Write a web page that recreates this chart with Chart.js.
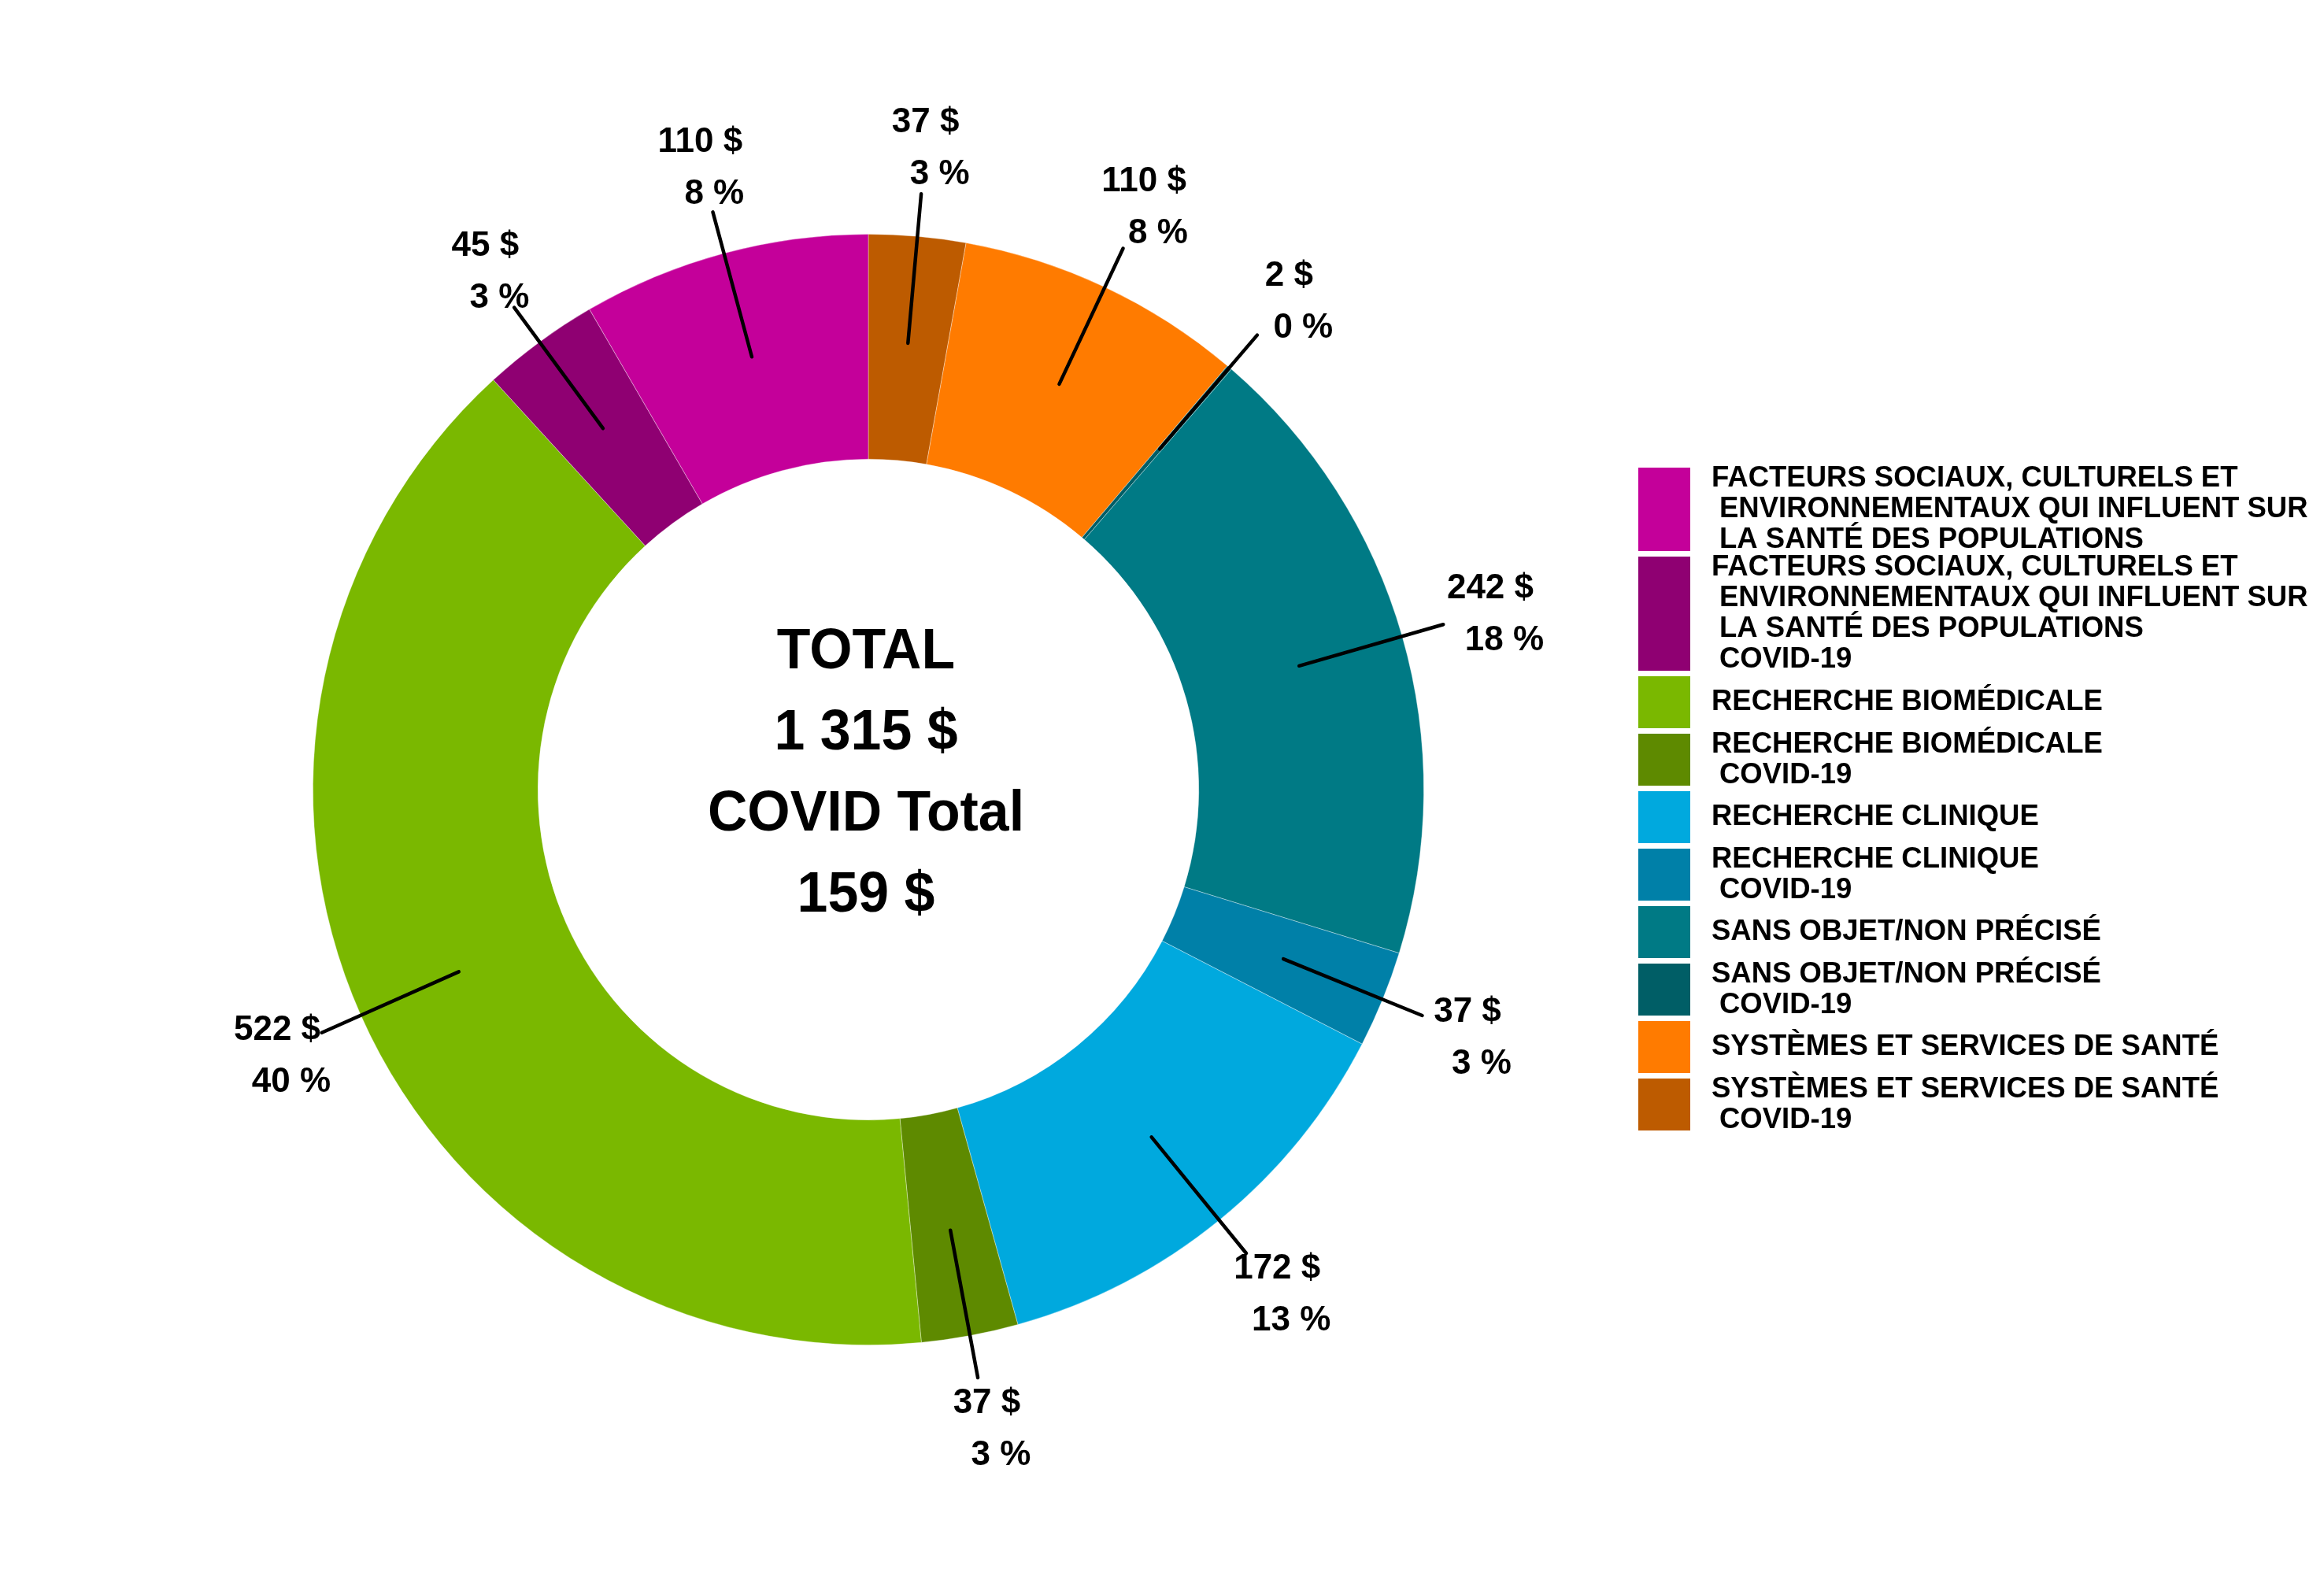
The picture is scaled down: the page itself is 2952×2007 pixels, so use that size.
<!DOCTYPE html>
<html lang="fr">
<head>
<meta charset="utf-8">
<title>Répartition des dépenses</title>
<script src="https://cdn.jsdelivr.net/npm/chart.js@4.4.1/dist/chart.umd.min.js"></script>
<style>
  html, body { margin: 0; padding: 0; background: #fff; }
  #zone { width: 2952px; height: 2007px; }
</style>
</head>
<body>
<div id="zone"><canvas id="graphique" width="2952" height="2007"></canvas></div>
<script>
// données dans l'ordre de la légende
const categories = [
  ['FACTEURS SOCIAUX, CULTURELS ET', 'ENVIRONNEMENTAUX QUI INFLUENT SUR', 'LA SANTÉ DES POPULATIONS'],
  ['FACTEURS SOCIAUX, CULTURELS ET', 'ENVIRONNEMENTAUX QUI INFLUENT SUR', 'LA SANTÉ DES POPULATIONS', 'COVID-19'],
  ['RECHERCHE BIOMÉDICALE'],
  ['RECHERCHE BIOMÉDICALE', 'COVID-19'],
  ['RECHERCHE CLINIQUE'],
  ['RECHERCHE CLINIQUE', 'COVID-19'],
  ['SANS OBJET/NON PRÉCISÉ'],
  ['SANS OBJET/NON PRÉCISÉ', 'COVID-19'],
  ['SYSTÈMES ET SERVICES DE SANTÉ'],
  ['SYSTÈMES ET SERVICES DE SANTÉ', 'COVID-19']
];
const montants = [110, 45, 522, 37, 172, 37, 242, 2, 110, 37];
const couleurs = ['#C4009A', '#8F0072', '#7AB800', '#5E8A00', '#00A9DE', '#0080A8', '#007A85', '#005E66', '#FF7B00', '#BD5B00'];
const totalLignes = ['TOTAL', '1 315 $', 'COVID Total', '159 $'];

const POLICE = "'Liberation Sans', Arial, Helvetica, sans-serif";

// le graphique tourne dans le sens horaire à partir de la dernière catégorie
const ordre = montants.map((_, i) => i).reverse();
const total = montants.reduce((a, b) => a + b, 0);

const etiquettesPlugin = {
  id: 'etiquettes',
  afterDatasetsDraw(chart) {
    const ctx = chart.ctx;
    const meta = chart.getDatasetMeta(0);
    ctx.save();
    ctx.strokeStyle = '#000';
    ctx.lineWidth = 4.5;
    ctx.lineCap = 'round';
    ctx.fillStyle = '#000';
    ctx.font = 'bold 44px ' + POLICE;
    ctx.textAlign = 'center';
    ctx.textBaseline = 'middle';

    meta.data.forEach((arc, i) => {
      const p = arc.getProps(['x', 'y', 'startAngle', 'endAngle', 'outerRadius'], true);
      const milieu = (p.startAngle + p.endAngle) / 2;
      const cos = Math.cos(milieu), sin = Math.sin(milieu);
      const r1 = p.outerRadius * 0.807, r2 = p.outerRadius * 1.077, r3 = p.outerRadius * 1.165;

      ctx.beginPath();
      ctx.moveTo(p.x + cos * r1, p.y + sin * r1);
      ctx.lineTo(p.x + cos * r2, p.y + sin * r2);
      ctx.stroke();

      const v = montants[ordre[i]];
      const bx = p.x + cos * r3, by = p.y + sin * r3 + 5;
      ctx.fillText(v + ' $', bx, by - 33);
      ctx.fillText(Math.round(v / total * 100) + ' %', bx + 18, by + 33);
    });

    // texte central
    const c = meta.data[0];
    ctx.font = 'bold 72px ' + POLICE;
    totalLignes.forEach((t, j) => {
      ctx.save();
      ctx.translate(c.x - 3, c.y - 19 + (j - 1.5) * 103);
      ctx.scale(0.97, 1);
      ctx.fillText(t, 0, 0);
      ctx.restore();
    });
    ctx.restore();
  }
};

const legendePlugin = {
  id: 'legende',
  afterDraw(chart) {
    const ctx = chart.ctx;
    ctx.save();
    ctx.font = 'bold 36.5px ' + POLICE;
    ctx.textAlign = 'left';
    ctx.textBaseline = 'middle';
    let y = 594;
    categories.forEach((lignes, i) => {
      const n = lignes.length;
      const h = n <= 2 ? 66 : n * 39 - 11;
      ctx.fillStyle = couleurs[i];
      ctx.fillRect(2081, y, 66, h);
      ctx.fillStyle = '#000';
      const centre = y + h / 2;
      lignes.forEach((t, j) => {
        ctx.fillText(t, j === 0 ? 2174 : 2184, centre + (j - (n - 1) / 2) * 39);
      });
      y += h + 7;
    });
    ctx.restore();
  }
};

new Chart(document.getElementById('graphique').getContext('2d'), {
  type: 'doughnut',
  data: {
    labels: ordre.map(i => categories[i].join(' ')),
    datasets: [{
      data: ordre.map(i => montants[i]),
      backgroundColor: ordre.map(i => couleurs[i]),
      borderColor: 'rgba(255,255,255,0.35)',
      borderWidth: 1
    }]
  },
  options: {
    responsive: false,
    animation: false,
    cutout: '59.5%',
    layout: { padding: { left: 397, top: 297, right: 1143, bottom: 298 } },
    plugins: {
      legend: { display: false },
      tooltip: { enabled: false }
    }
  },
  plugins: [etiquettesPlugin, legendePlugin]
});
</script>
</body>
</html>
